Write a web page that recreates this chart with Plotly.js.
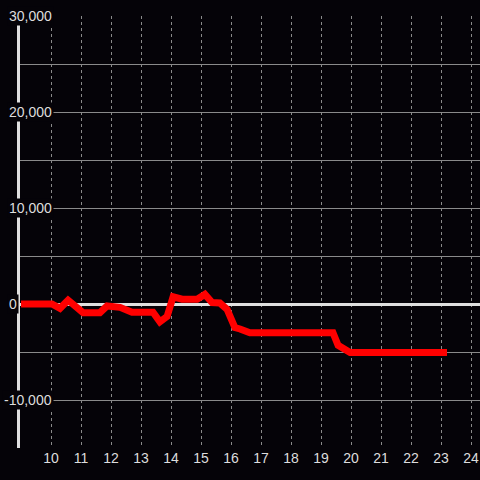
<!DOCTYPE html>
<html>
<head>
<meta charset="utf-8">
<script src="https://cdn.plot.ly/plotly-3.0.1.min.js"></script>
<style>html,body{margin:0;padding:0;background:#050308;}</style>
</head>
<body>
<div id="chart" style="width:480px;height:480px;"></div>
<script>
const hours = [9.0, 10.03, 10.3, 10.57, 11.07, 11.63, 11.87, 12.3, 12.7, 13.4, 13.63, 13.87, 14.07, 14.37, 14.87, 15.13, 15.37, 15.63, 15.87, 16.13, 16.3, 16.63, 19.4, 19.57, 19.97, 23.2];
const balance = [0, 0, -450, 400, -900, -900, -200, -350, -850, -850, -1850, -1300, 750, 500, 500, 1000, 150, 100, -550, -2450, -2600, -3000, -3000, -4300, -5050, -5050];
const xTicks = [10, 11, 12, 13, 14, 15, 16, 17, 18, 19, 20, 21, 22, 23, 24];
const yLabelValues = [30000, 20000, 10000, 0, -10000];

const bg = '#050308';
const fontFam = 'Liberation Sans, Arial, sans-serif';

const annotations = yLabelValues.map(v => ({
  xref: 'paper', yref: 'y', x: 0, y: v,
  xanchor: 'left', yanchor: 'middle',
  xshift: v < 0 ? -18 : -13,
  text: v.toLocaleString('en-US'),
  showarrow: false,
  bgcolor: bg, borderpad: 1,
  font: {family: fontFam, size: 14, color: '#dddddd'}
}));

Plotly.newPlot('chart', [{
  x: hours, y: balance, type: 'scatter', mode: 'lines',
  line: {color: '#ff0000', width: 7},
  hoverinfo: 'skip'
}], {
  width: 480, height: 480,
  margin: {l: 20, r: 0, t: 16, b: 32},
  paper_bgcolor: bg, plot_bgcolor: bg,
  showlegend: false,
  font: {family: fontFam, size: 14, color: '#dddddd'},
  xaxis: {
    range: [8.9667, 24.3],
    tickvals: xTicks,
    ticktext: xTicks.map(String),
    showgrid: true, gridcolor: '#8a8a8a', gridwidth: 1, griddash: '3px,3px',
    zeroline: false, showline: false, ticks: '',
    tickfont: {family: fontFam, size: 14, color: '#dddddd'}
  },
  yaxis: {
    range: [-15000, 30000],
    dtick: 5000, tick0: 0,
    showticklabels: false,
    showgrid: true, gridcolor: '#8a8a8a', gridwidth: 1,
    zeroline: true, zerolinecolor: '#e0e0e0', zerolinewidth: 3,
    showline: true, linecolor: '#e0e0e0', linewidth: 3, ticks: ''
  },
  annotations: annotations
}, {displayModeBar: false, staticPlot: true});
</script>
</body>
</html>
